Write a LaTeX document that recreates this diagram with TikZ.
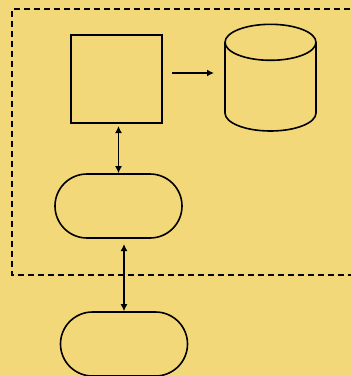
\documentclass[tikz,border=0pt]{standalone}
\usetikzlibrary{shapes.misc,arrows.meta}
\definecolor{paper}{RGB}{243,216,121}
\tikzset{
  outline/.style={draw=black, line width=1.6pt},
  boxnode/.style={outline, rectangle, minimum width=91pt, minimum height=88pt, inner sep=0pt},
  pillnode/.style={outline, rounded rectangle, minimum width=127pt, minimum height=64pt, inner sep=0pt},
  link/.style={line width=1.6pt, -{Latex[length=7pt,width=7pt]}},
  twoway/.style={line width=1.6pt, {Latex[length=7pt,width=7pt]}-{Latex[length=7pt,width=7pt]}},
  frame/.style={line width=1.3pt, dash pattern=on 6pt off 4pt}
}
\begin{document}
\begin{tikzpicture}[x=1pt,y=1pt]
  \fill[paper] (0,0) rectangle (351,-376);
  \useasboundingbox (0,0) rectangle (351,-376);
  % dashed boundary, open on the right
  \draw[frame] (360,-9) -- (12,-9) -- (12,-275) -- (360,-275);
  % process box and the two terminals
  \node[boxnode] (proc) at (116.2,-78.9) {};
  \node[pillnode] (ui) at (118.5,-206) {};
  \node[pillnode] (ext) at (124,-344) {};
  % data store drawn as a cylinder
  \coordinate (store) at (270.5,-77.7);
  \draw[outline] ([yshift=35.4pt]store) ellipse [x radius=45.5pt, y radius=18pt];
  \draw[outline] ([xshift=-45.5pt,yshift=35.4pt]store) -- ([xshift=-45.5pt,yshift=-35.3pt]store)
     arc[start angle=180, end angle=360, x radius=45.5pt, y radius=18pt]
     -- ([xshift=45.5pt,yshift=35.4pt]store);
  % connectors
  \coordinate (a1) at (172,-73);
  \coordinate (a2) at (214,-73);
  \draw[link] (a1) -- (a2);
  \draw[twoway] (ui.north |- 0,-126) -- (ui.north);
  \draw[twoway] (ext.north |- 0,-244) -- (ext.north);
\end{tikzpicture}
\end{document}
